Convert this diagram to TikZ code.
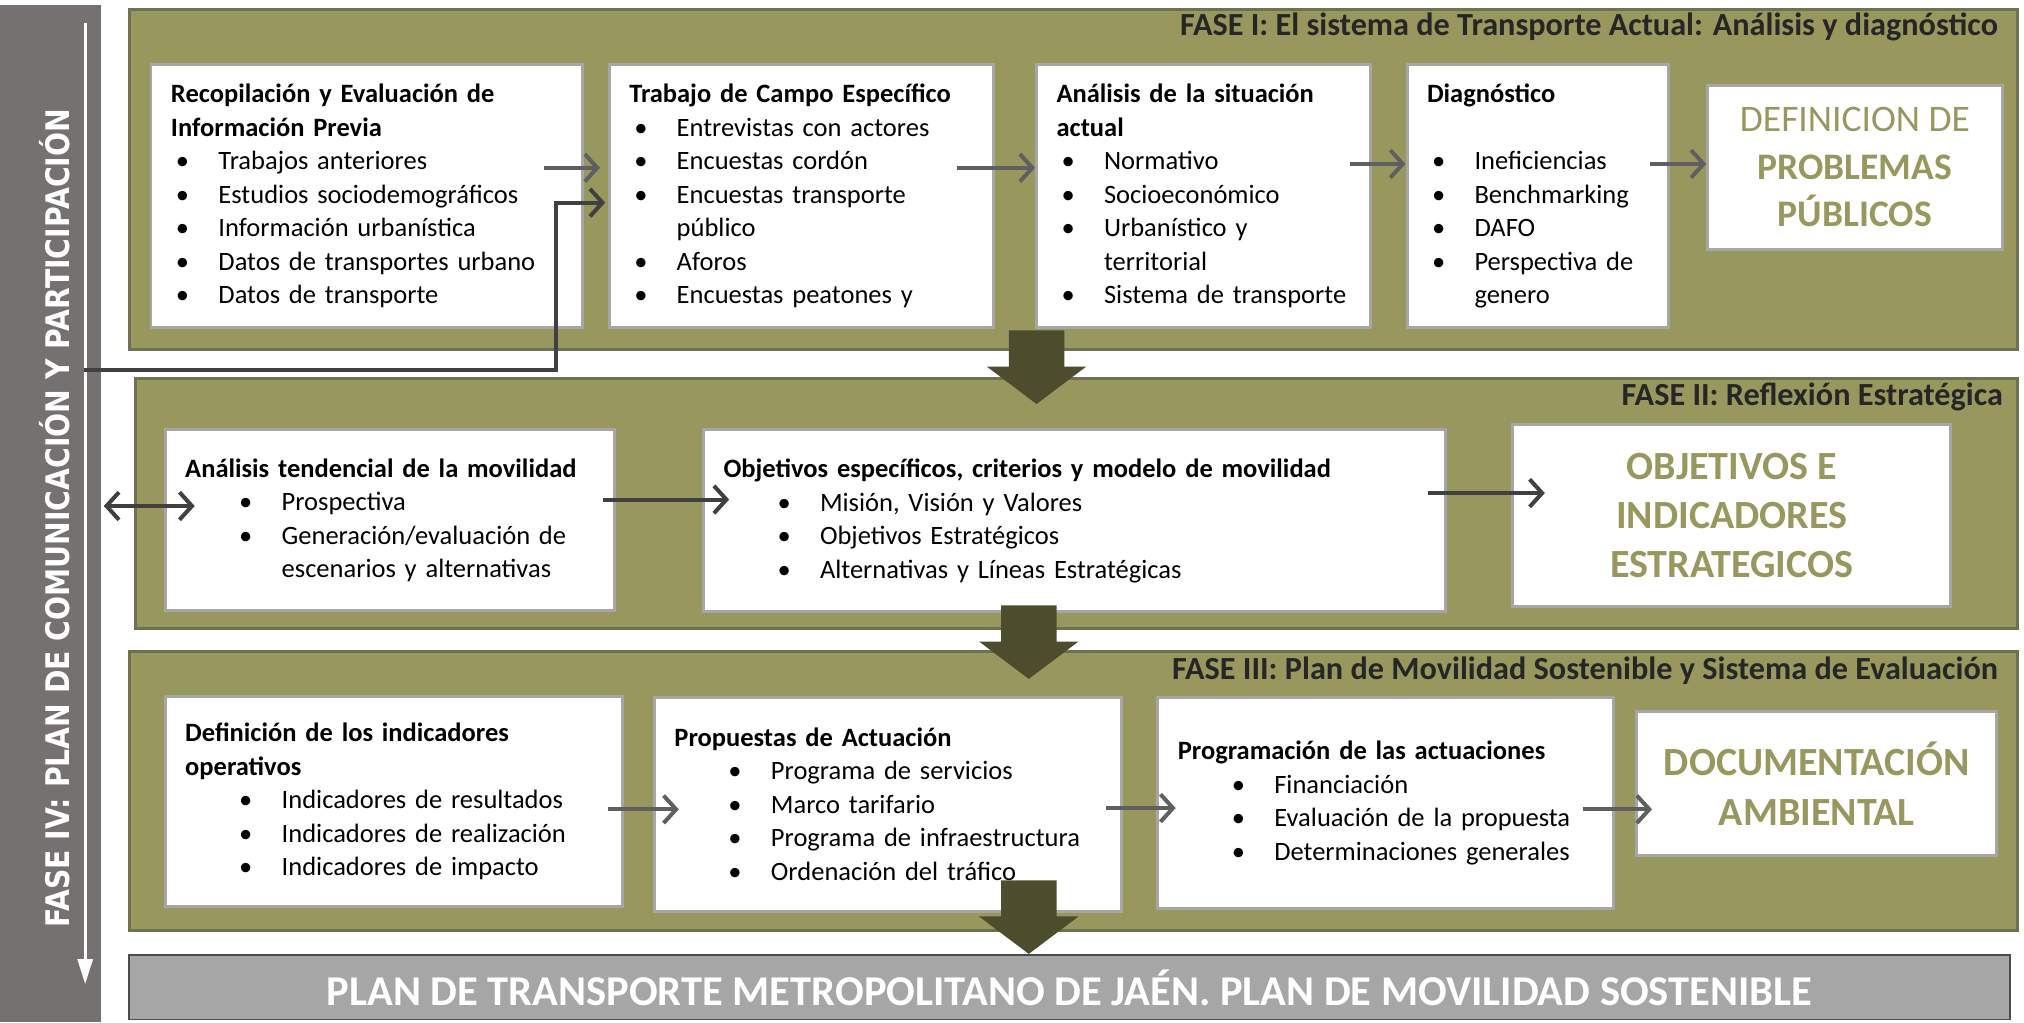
\documentclass[tikz,border=0pt]{standalone}
\usepackage{fontspec}
\setmainfont{Carlito}
\newfontfamily\sidefont{DejaVu Sans}
\usetikzlibrary{positioning,calc,arrows.meta}

\definecolor{faseolive}{RGB}{152,152,94}
\definecolor{faseedge}{RGB}{112,112,82}
\definecolor{darkolive}{RGB}{77,77,45}
\definecolor{sidegray}{RGB}{118,113,113}
\definecolor{bargray}{RGB}{166,166,166}
\definecolor{linkgray}{RGB}{95,95,95}
\definecolor{linkdark}{RGB}{64,64,64}

% bullet line, optional extra indent
\newcommand{\bul}[2][0pt]{\par\noindent\hangindent=\dimexpr#1+19pt\relax\hangafter=1\hspace*{\dimexpr#1+2pt\relax}\makebox[17pt][l]{\textbullet}#2\par}
\newcommand{\bulb}[1]{\bul[19.6pt]{#1}}

\begin{document}
\begin{tikzpicture}[x=0.5164pt, y=-0.5164pt,
		>={Straight Barb[length=5pt,width=11pt]},
		fase/.style={draw=faseedge, line width=1.2pt, fill=faseolive, inner sep=0pt},
		fasetitle/.style={anchor=east, inner sep=0pt, font=\fontsize{12.9}{15}\selectfont\bfseries, text=black!85},
		box/.style={draw=gray!70, line width=1.2pt, fill=white, align=left, inner xsep=8pt, inner ysep=0pt, font=\fontsize{10.6}{13.4}\selectfont},
		goal/.style={draw=gray!70, line width=1.2pt, fill=white, align=center, inner sep=0pt, text=faseolive, font=\fontsize{16}{19.6}\selectfont\bfseries},
		link/.style={->, color=linkgray, line width=1.6pt},
		darklink/.style={->, color=linkdark, line width=1.6pt},
		downarrow/.pic={\fill[darkolive] (-21.5,0) -- (21.5,0) -- (21.5,28) -- (38.5,28) -- (0,57) -- (-38.5,28) -- (-21.5,28) -- cycle;}
		]
		\useasboundingbox (0,0) rectangle (1568,792);
		\fill[white] (0,0) rectangle (1568,792);
		
		% side bar (fase IV)
		\node[fill=sidegray, inner sep=0pt, minimum width=40.3pt, minimum height=406.9pt] at (39,398) (f4) {};
		\draw[white, line width=1.2pt, -{Triangle[length=10pt,width=6pt]}] ([shift={(27,14)}]f4.north) -- ([shift={(27,-30)}]f4.south);
		\node[rotate=90, text=white, inner sep=0pt, font=\sidefont\fontsize{13}{15}\selectfont\bfseries] at (42,401.5) (f4text) {\scalebox{0.87}[1]{FASE IV: PLAN DE COMUNICACIÓN Y PARTICIPACIÓN}};
		
		% phases
		\node[fase, minimum width=755.5pt, minimum height=136.3pt] at (831.5,139) (fase1) {};
		\node[fase, minimum width=752.9pt, minimum height=100.2pt] at (834,390) (fase2) {};
		\node[fase, minimum width=755.5pt, minimum height=111.5pt] at (831.5,613) (fase3) {};
		\node[fasetitle] at ([shift={(-16,15)}]fase1.north east) (t1) {FASE I: El sistema de Transporte Actual: Análisis y diagnóstico};
		\node[fasetitle] at ([shift={(-12,16)}]fase2.north east) (t2) {FASE II: Reflexión Estratégica};
		\node[fasetitle] at ([shift={(-16,16)}]fase3.north east) (t3) {FASE III: Plan de Movilidad Sostenible y Sistema de Evaluación};
		
		% fase I
		\node[box, text width=156.5pt, minimum height=105.3pt] at (284,152) (a1) {\textbf{Recopilación y Evaluación de\\Información Previa}\bul{Trabajos anteriores}\bul{Estudios sociodemográficos}\bul{Información urbanística}\bul{Datos de transportes urbano}\bul{Datos de transporte}};
		\node[box, text width=137.9pt, minimum height=105.3pt] at (621,152) (a2) {\textbf{Trabajo de Campo Específico}\bul{Entrevistas con actores}\bul{Encuestas cordón}\bul{Encuestas transporte\newline público}\bul{Aforos}\bul{Encuestas peatones y}};
		\node[box, text width=117.7pt, minimum height=105.3pt] at (932.5,152) (a3) {\textbf{Análisis de la situación\\actual}\bul{Normativo}\bul{Socioeconómico}\bul{Urbanístico y\newline territorial}\bul{Sistema de transporte}};
		\node[box, text width=88.8pt, minimum height=105.3pt] at (1191.5,152) (a4) {\textbf{Diagnóstico}\par\mbox{}\bul{Ineficiencias}\bul{Benchmarking}\bul{DAFO}\bul{Perspectiva de\newline genero}};
		\node[goal, minimum width=117.7pt, minimum height=65.6pt, font=\fontsize{15}{19}\selectfont] at (1437,129.5) (a5) {DEFINICION DE\\\textbf{PROBLEMAS}\\\textbf{PÚBLICOS}};
		
		% fase II
		\node[box, text width=163.7pt, minimum height=72.3pt] at (302,403) (b1) {\textbf{Análisis tendencial de la movilidad}\bulb{Prospectiva}\bulb{Generación/evaluación de\newline escenarios y alternativas}};
		\node[box, text width=280.9pt, minimum height=72.8pt] at (832.5,403.5) (b2) {\textbf{Objetivos específicos, criterios y modelo de movilidad}\bulb{Misión, Visión y Valores}\bulb{Objetivos Estratégicos}\bulb{Alternativas y Líneas Estratégicas}};
		\node[goal, minimum width=175.1pt, minimum height=72.8pt] at (1341.5,399.5) (b3) {OBJETIVOS E\\INDICADORES\\ESTRATEGICOS};
		
		% fase III
		\node[box, text width=166.8pt, minimum height=83.7pt] at (305,621) (c1) {\textbf{Definición de los indicadores\\operativos}\bulb{Indicadores de resultados}\bulb{Indicadores de realización}\bulb{Indicadores de impacto}};
		\node[box, text width=170.9pt, minimum height=85.7pt] at (688,623) (c2) {\textbf{Propuestas de Actuación}\bulb{Programa de servicios}\bulb{Marco tarifario}\bulb{Programa de infraestructura}\bulb{Ordenación del tráfico}};
		\node[box, text width=166.3pt, minimum height=84.7pt] at (1073.5,622) (c3) {\textbf{Programación de las actuaciones}\bulb{Financiación}\bulb{Evaluación de la propuesta}\bulb{Determinaciones generales}};
		\node[goal, minimum width=144.1pt, minimum height=57.8pt, font=\fontsize{16}{20}\selectfont\bfseries] at (1407.5,607) (c4) {DOCUMENTACIÓN\\AMBIENTAL};
		
		% final bar
		\node[fill=bargray, draw=black!70, line width=0.6pt, minimum width=752.4pt, minimum height=25.8pt, text=white, font=\fontsize{17}{20}\selectfont\bfseries] at (828.5,765) (plan) {PLAN DE TRANSPORTE METROPOLITANO DE JAÉN. PLAN DE MOVILIDAD SOSTENIBLE};
		
		% connectors
		\path[link] ([shift={(-31,-22)}]a1.east) edge ([shift={(-6,-22)}]a2.west)
		([shift={(-30,-22)}]a2.east) edge ([shift={(0,-22)}]a3.west)
		([shift={(-17,-25)}]a3.east) edge ([shift={(0,-25)}]a4.west)
		([shift={(-16,-25)}]a4.east) edge ([shift={(0,-2.5)}]a5.west)
		([shift={(-12,6)}]c1.east) edge ([shift={(20,4)}]c2.west)
		([shift={(-13,3)}]c2.east) edge ([shift={(15,4)}]c3.west)
		([shift={(-25,5)}]c3.east) edge ([shift={(13,20)}]c4.west);
		\path[darklink] ([shift={(-10,-16)}]b1.east) edge ([shift={(21,-16.5)}]b2.west)
		([shift={(-15,-21.5)}]b2.east) edge ([shift={(26,-17.5)}]b3.west);
		
		% links with fase IV
		\coordinate (f4out) at (65,287);
		\draw[darklink] (f4out) -| ([shift={(-40,5)}]a2.west) -- ([shift={(-2,5)}]a2.west);
		\draw[darklink, <->] ([shift={(2,-6)}]f4.east) -- ([shift={(24,-11)}]b1.west);
		
		% block arrows between phases
		\pic at (803,256) {downarrow};
		\pic at (797,469) {downarrow};
		\pic at (797,682) {downarrow};
	\end{tikzpicture}
\end{document}
